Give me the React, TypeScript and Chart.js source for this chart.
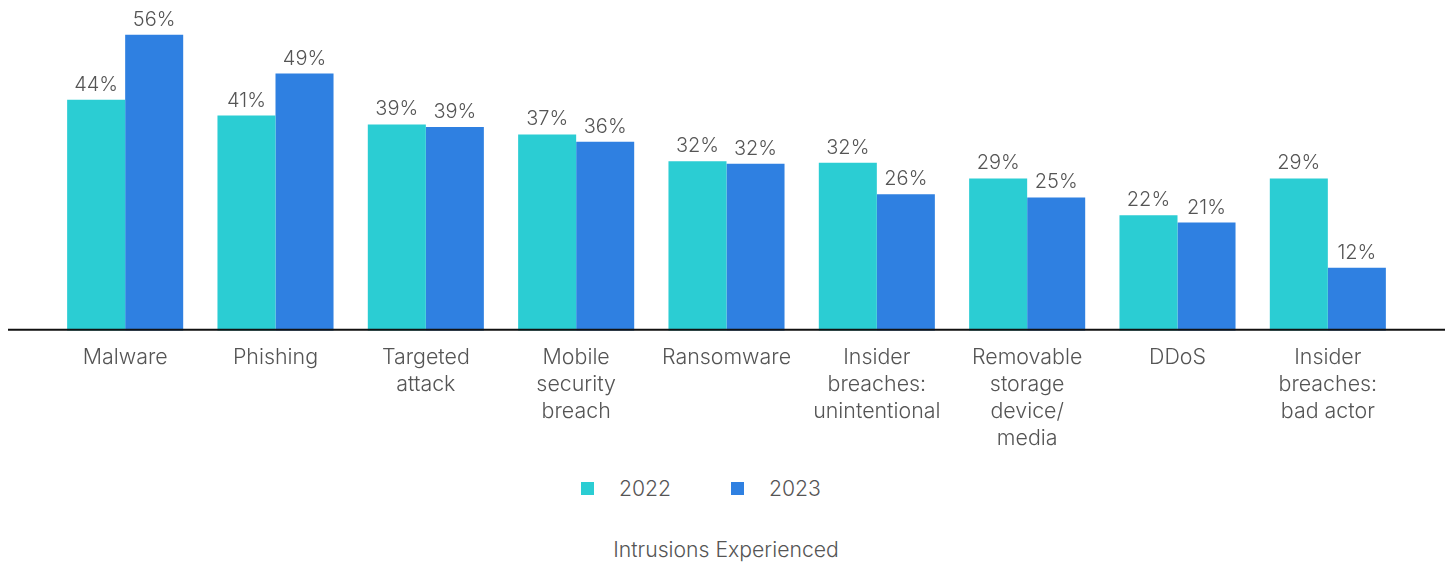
import React, { useEffect, useRef } from "react";
import { Chart, registerables } from "chart.js";

Chart.register(...registerables);

const categories: (string | string[])[] = [
  "Malware",
  "Phishing",
  ["Targeted", "attack"],
  ["Mobile", "security", "breach"],
  "Ransomware",
  ["Insider", "breaches:", "unintentional"],
  ["Removable", "storage", "device/", "media"],
  "DDoS",
  ["Insider", "breaches:", "bad actor"],
];
const values2022 = [44, 41, 39.3, 37.4, 32.3, 32, 29, 22, 29];
const values2023 = [56.4, 49, 38.8, 36, 31.8, 26, 25.4, 20.6, 12];
const seriesNames = ["2022", "2023"];
const colors = ["#2BCDD3", "#2F80E1"];
const chartTitle = "Intrusions Experienced";

const FONT = "Inter, 'Noto Sans', sans-serif";
const TEXT = "#555555";

const valueLabels = {
  id: "valueLabels",
  afterDatasetsDraw(chart: any) {
    const ctx = chart.ctx;
    ctx.save();
    ctx.font = `300 20px ${FONT}`;
    ctx.fillStyle = TEXT;
    ctx.textAlign = "center";
    ctx.textBaseline = "middle";
    chart.data.datasets.forEach((ds: any, di: number) => {
      const meta = chart.getDatasetMeta(di);
      meta.data.forEach((el: any, i: number) => {
        ctx.fillText(`${Math.round(ds.data[i])}%`, el.x, el.y - 15);
      });
    });
    ctx.restore();
  },
};

const baseline = {
  id: "baseline",
  afterDatasetsDraw(chart: any) {
    const ctx = chart.ctx;
    const y = chart.scales.y.getPixelForValue(0) - 1;
    ctx.save();
    ctx.strokeStyle = "#111111";
    ctx.lineWidth = 2;
    ctx.beginPath();
    ctx.moveTo(8, y);
    ctx.lineTo(1445, y);
    ctx.stroke();
    ctx.restore();
  },
};

export default function App() {
  const ref = useRef<HTMLCanvasElement>(null);
  useEffect(() => {
    if (!ref.current) return;
    const chart = new Chart(ref.current, {
      type: "bar",
      data: {
        labels: categories,
        datasets: [
          { label: seriesNames[0], data: values2022, backgroundColor: colors[0], borderWidth: 0 },
          { label: seriesNames[1], data: values2023, backgroundColor: colors[1], borderWidth: 0 },
        ],
      },
      options: {
        animation: false,
        responsive: false,
        maintainAspectRatio: false,
        layout: { padding: { left: 50, right: 49, top: 0, bottom: 9 } },
        datasets: { bar: { categoryPercentage: 0.772, barPercentage: 1 } },
        plugins: {
          legend: { display: false },
          title: { display: false },
          tooltip: { enabled: false },
        },
        scales: {
          x: {
            grid: { display: false, drawTicks: false },
            border: { display: false },
            ticks: {
              color: TEXT,
              font: { family: FONT, size: 21.4, weight: "300" as any, lineHeight: 1.265 },
              padding: 13,
              autoSkip: false,
              maxRotation: 0,
            },
          },
          y: {
            display: false,
            min: 0,
            max: 63,
          },
        },
      },
      plugins: [valueLabels, baseline],
    });
    return () => chart.destroy();
  }, []);

  const legendText: React.CSSProperties = {
    fontFamily: FONT,
    fontWeight: 300,
    fontSize: 21.2,
    color: TEXT,
    lineHeight: "24px",
  };

  return (
    <div style={{ position: "absolute", left: 0, top: 0, width: 1452, height: 563, background: "#fff" }}>
      <canvas ref={ref} width={1452} height={474} style={{ position: "absolute", left: 0, top: 0, width: 1452, height: 474 }} />
      <div style={{ position: "absolute", left: 581, top: 476, height: 24, display: "flex", alignItems: "center" }}>
        {seriesNames.map((n, i) => (
          <div key={n} style={{ display: "flex", alignItems: "center", width: 150 }}>
            <span style={{ display: "inline-block", width: 13, height: 13, background: colors[i], marginRight: 25 }} />
            <span style={legendText}>{n}</span>
          </div>
        ))}
      </div>
      <div style={{ ...legendText, position: "absolute", left: 0, width: 1452, top: 537, textAlign: "center" }}>
        {chartTitle}
      </div>
    </div>
  );
}
